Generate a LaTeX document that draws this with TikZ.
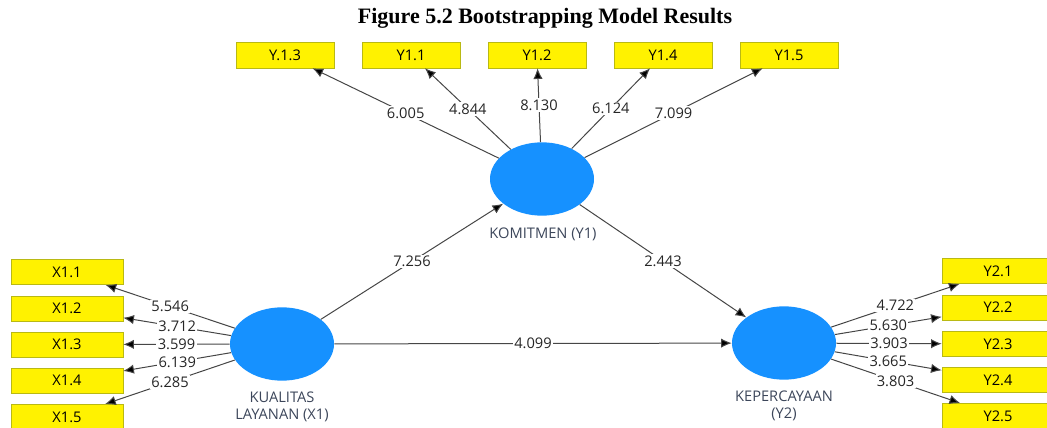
\documentclass[tikz,border=0pt]{standalone}
\usepackage{fontspec}
\setmainfont{Liberation Serif}
\newfontfamily\plsfont{Open Sans}
\usetikzlibrary{arrows.meta,shapes.geometric,positioning}
\definecolor{plsblue}{RGB}{22,145,255}
\definecolor{boxline}{RGB}{185,185,20}
\definecolor{linegray}{RGB}{70,70,70}
\definecolor{lvtext}{RGB}{60,70,90}

\begin{document}
\begin{tikzpicture}
[x=0.75pt,y=-0.75pt,
every node/.style={font=\plsfont\fontsize{11}{13}\selectfont},
latent/.style={ellipse,fill=plsblue,minimum width=78pt,minimum height=55pt,inner sep=0pt},
lvname/.style={text=lvtext,align=center,inner sep=0pt},
topitem/.style={draw=boxline,fill=yellow,minimum width=73.5pt,minimum height=19.5pt,inner sep=0pt},
sideitem/.style={draw=boxline,fill=yellow,minimum width=84pt,minimum height=19pt,inner sep=0pt},
path/.style={draw=linegray,line width=0.75pt,-{Latex[length=8pt,width=7pt,fill=black]}},
coef/.style={fill=white,inner sep=1pt,text=black!85}]
\useasboundingbox (0,0) rectangle (1047,428);

\node[font=\bfseries\fontsize{16.5}{19}\selectfont] (title) at (545,18) {Figure 5.2 Bootstrapping Model Results};

% latent variables
\node[latent] (y1) at (542,179) {};
\node[latent] (x1) at (282,344) {};
\node[latent] (y2) at (784,343) {};
\node[lvname] (y1name) at (543,234) {KOMITMEN (Y1)};
\node[lvname] (x1name) at (282,407) {KUALITAS\\LAYANAN (X1)};
\node[lvname] (y2name) at (784,406) {KEPERCAYAAN\\(Y2)};

% indicators
\node[topitem] (y13) at (285,55) {Y.1.3};
\node[topitem] (y11) at (411,55) {Y1.1};
\node[topitem] (y12) at (537,55) {Y1.2};
\node[topitem] (y14) at (663,55) {Y1.4};
\node[topitem] (y15) at (789,55) {Y1.5};

\node[sideitem] (x11) at (67,272) {X1.1};
\node[sideitem] (x12) at (67,308.5) {X1.2};
\node[sideitem] (x13) at (67,344.5) {X1.3};
\node[sideitem] (x14) at (67,380.5) {X1.4};
\node[sideitem] (x15) at (67,417) {X1.5};

\node[sideitem] (y21) at (998,271) {Y2.1};
\node[sideitem] (y22) at (998,307.5) {Y2.2};
\node[sideitem] (y23) at (998,344) {Y2.3};
\node[sideitem] (y24) at (998,380) {Y2.4};
\node[sideitem] (y25) at (998,416) {Y2.5};

% outer loadings
\draw[path] (y1) -- node[coef]{6.005} (y13);
\draw[path] (y1) -- node[coef]{4.844} (y11);
\draw[path] (y1) -- node[coef]{8.130} (y12);
\draw[path] (y1) -- node[coef]{6.124} (y14);
\draw[path] (y1) -- node[coef]{7.099} (y15);

\draw[path] (x1) -- node[coef]{5.546} (x11);
\draw[path] (x1) -- node[coef]{3.712} (x12);
\draw[path] (x1) -- node[coef]{3.599} (x13);
\draw[path] (x1) -- node[coef]{6.139} (x14);
\draw[path] (x1) -- node[coef]{6.285} (x15);

\draw[path] (y2) -- node[coef]{4.722} (y21);
\draw[path] (y2) -- node[coef]{5.630} (y22);
\draw[path] (y2) -- node[coef]{3.903} (y23);
\draw[path] (y2) -- node[coef]{3.665} (y24);
\draw[path] (y2) -- node[coef]{3.803} (y25);

% inner model
\draw[path] (x1) -- node[coef]{7.256} (y1);
\draw[path] (y1) -- node[coef]{2.443} (y2);
\draw[path] (x1) -- node[coef]{4.099} (y2);
\end{tikzpicture}
\end{document}
